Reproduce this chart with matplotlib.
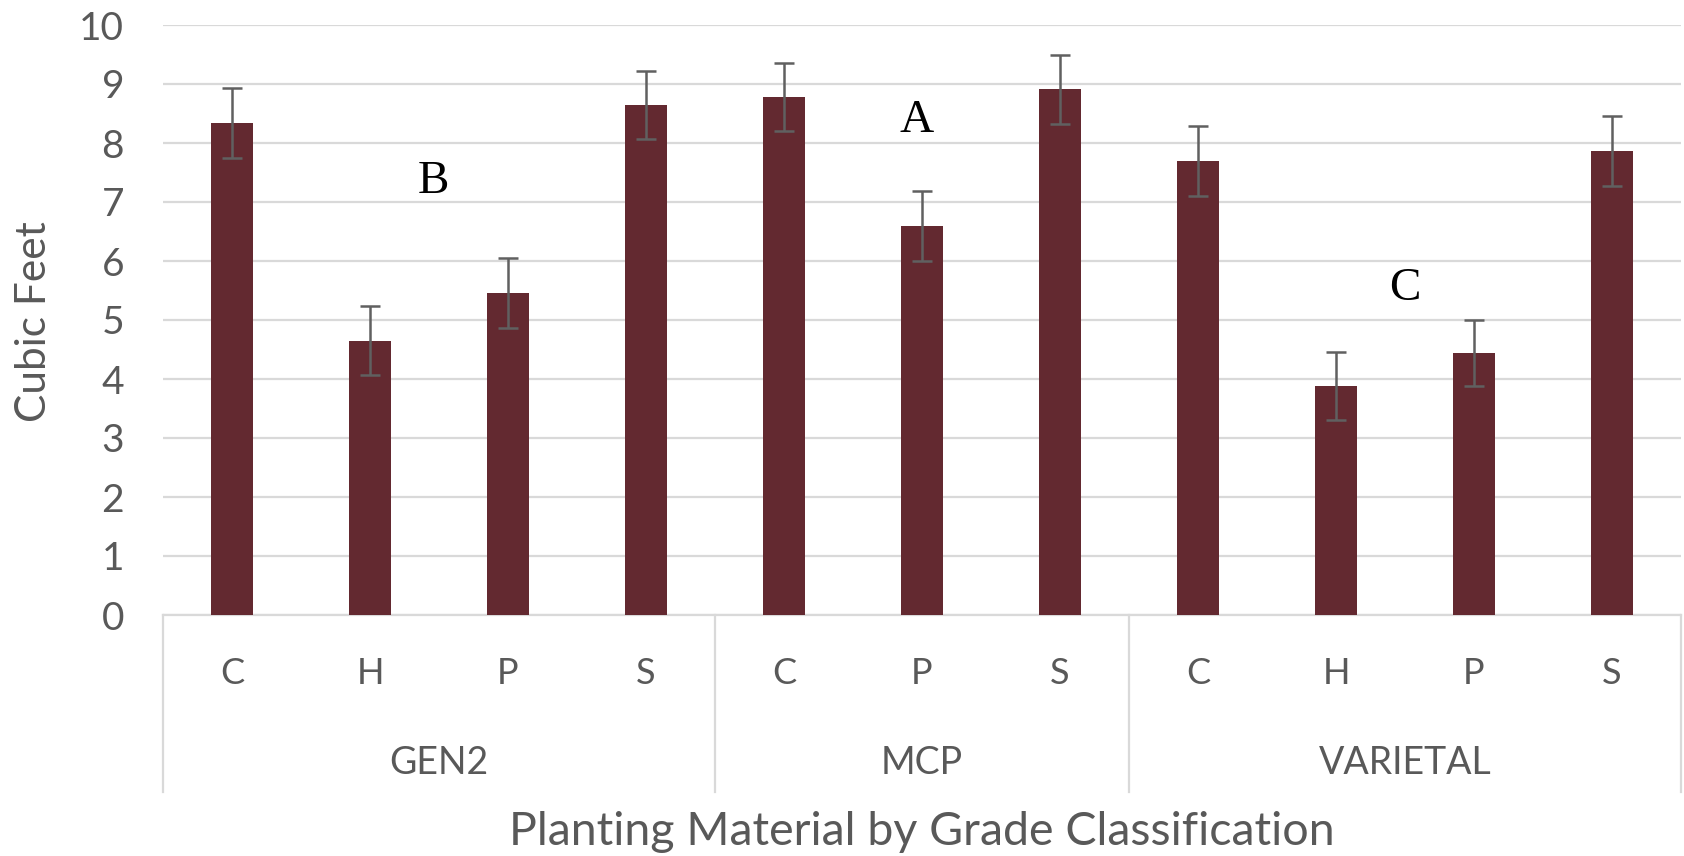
import matplotlib
matplotlib.use("Agg")
import matplotlib.pyplot as plt
import matplotlib.transforms as mtransforms
import numpy as np

plt.rcParams['font.family'] = ['Lato', 'DejaVu Sans']

groups = ["GEN2", "MCP", "VARIETAL"]
group_sizes = [4, 3, 4]
categories = ["C", "H", "P", "S", "C", "P", "S", "C", "H", "P", "S"]
values = [8.34, 4.65, 5.46, 8.64, 8.78, 6.59, 8.91, 7.69, 3.88, 4.44, 7.86]
errors = [0.59, 0.59, 0.59, 0.58, 0.57, 0.59, 0.59, 0.59, 0.58, 0.56, 0.59]
letters = ["B", "A", "C"]
letter_x = [1.46, 4.96, 8.5]
letter_y = [7.35, 8.38, 5.53]

bar_color = "#632930"
text_color = "#595959"
grid_color = "#d9d9d9"

fig = plt.figure(figsize=(16.84, 8.56), dpi=100)
ax = fig.add_axes([163/1684, (856-615)/856, (1681-163)/1684, 590/856])

x = np.arange(len(categories))
ax.bar(x, values, width=0.31, color=bar_color, zorder=3,
       yerr=errors, error_kw=dict(ecolor="#606060", elinewidth=1.8, capsize=7.5, capthick=1.8, zorder=4))

ax.set_xlim(-0.5, len(categories) - 0.5)
ax.set_ylim(0, 10)
ax.set_yticks(np.arange(0, 11, 1))
ax.tick_params(axis='y', length=0, labelsize=28, labelcolor=text_color, pad=28)
ax.set_xticks([])
ax.grid(axis='y', color=grid_color, linewidth=1.6, zorder=0)
for s in ["top", "right", "left"]:
    ax.spines[s].set_visible(False)
ax.spines["bottom"].set_color(grid_color)
ax.spines["bottom"].set_linewidth(1.6)

trans = mtransforms.blended_transform_factory(ax.transData, ax.transAxes)

# category labels
for xi, c in zip(x, categories):
    ax.text(xi, -0.1, c, transform=trans, ha='center', va='center', fontsize=26, color=text_color)

# group boundaries and labels
y_low = -0.30
start = -0.5
bounds = [start]
for g, n in zip(groups, group_sizes):
    end = start + n
    ax.text((start + end) / 2, -0.25, g, transform=trans, ha='center', va='center', fontsize=27, color=text_color)
    bounds.append(end)
    start = end
for b in bounds:
    ax.plot([b, b], [0, y_low], transform=trans, color=grid_color, linewidth=1.6, clip_on=False)

ax.text(0.5, -0.368, "Planting Material by Grade Classification", transform=ax.transAxes,
        ha='center', va='center', fontsize=33.5, color=text_color)
fig.text(34/1684, 1 - 322/856, "Cubic Feet", rotation=90, ha='center', va='center', fontsize=30.5, color=text_color)

for lx, ly, lt in zip(letter_x, letter_y, letters):
    ax.text(lx, ly, lt, ha='center', va='center', fontsize=34, color="black",
            family=['Liberation Serif', 'DejaVu Serif'], zorder=5)

fig.savefig("out.png", dpi=100)
